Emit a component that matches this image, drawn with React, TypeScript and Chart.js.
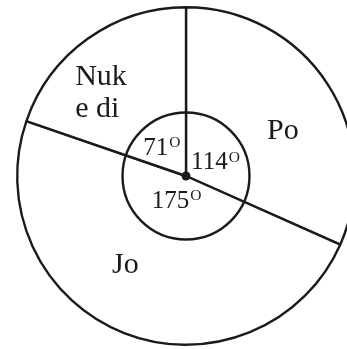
import React, { useEffect, useRef } from "react";
import { Chart, registerables } from "chart.js";

Chart.register(...registerables);

// ---- data ----
const categories: string[] = ["Po", "Jo", "Nuk e di"];
const degrees: number[] = [114, 175, 71];
const nameLines: string[][] = [["Po"], ["Jo"], ["Nuk", "e di"]];

// ---- label layout (angle clockwise from 12 o'clock, radius as fraction of R) ----
const nameAngle: number[] = [68.9, 212.1, 317.0];
const nameRadius: number[] = [0.615, 0.675, 0.738];
const valueAngle: number[] = [74.1, 205.6, 304.5];
const valueRadius: number[] = [0.144, 0.211, 0.218];
const innerCircleFrac = 0.376;

const INK = "#1c1a1b";
const SERIF = '"Liberation Serif", "Times New Roman", Times, serif';
const LINE_W = 2.4;

const overlayPlugin = {
  id: "overlay",
  afterDatasetsDraw(chart: any) {
    const meta = chart.getDatasetMeta(0);
    const arc = meta.data[0];
    if (!arc) return;
    const { x, y, outerRadius } = arc.getProps(["x", "y", "outerRadius"], true);
    const R = outerRadius;
    const ctx: CanvasRenderingContext2D = chart.ctx;
    const polar = (deg: number, r: number) => {
      const a = (deg * Math.PI) / 180;
      return { px: x + r * Math.sin(a), py: y - r * Math.cos(a) };
    };
    ctx.save();
    // inner circle
    ctx.strokeStyle = INK;
    ctx.lineWidth = LINE_W;
    ctx.beginPath();
    ctx.arc(x, y, R * innerCircleFrac, 0, Math.PI * 2);
    ctx.stroke();
    // center dot
    ctx.fillStyle = INK;
    ctx.beginPath();
    ctx.arc(x, y, 4.5, 0, Math.PI * 2);
    ctx.fill();

    // category names
    ctx.font = `30px ${SERIF}`;
    ctx.textBaseline = "alphabetic";
    ctx.textAlign = "left";
    categories.forEach((_, i) => {
      const lines = nameLines[i];
      const { px, py } = polar(nameAngle[i], nameRadius[i] * R);
      const maxW = Math.max(...lines.map((l) => ctx.measureText(l).width));
      lines.forEach((l, j) => {
        ctx.fillText(l, px - maxW / 2, py + j * 32);
      });
    });

    // degree values
    degrees.forEach((d, i) => {
      const { px, py } = polar(valueAngle[i], valueRadius[i] * R);
      const txt = String(d);
      ctx.font = `25px ${SERIF}`;
      const w = ctx.measureText(txt).width;
      ctx.fillText(txt, px - w / 2, py);
      ctx.font = `15.5px ${SERIF}`;
      ctx.fillText("O", px + w / 2 + 1, py - 7.7);
    });
    ctx.restore();
  },
};

export default function App() {
  const ref = useRef<HTMLCanvasElement | null>(null);
  useEffect(() => {
    if (!ref.current) return;
    const chart = new Chart(ref.current, {
      type: "pie",
      data: {
        labels: categories,
        datasets: [
          {
            data: degrees,
            backgroundColor: "#ffffff",
            borderColor: INK,
            borderWidth: LINE_W,
            borderAlign: "center",
          },
        ],
      },
      options: {
        responsive: false,
        animation: false,
        events: [],
        layout: { padding: 6 },
        plugins: {
          legend: { display: false },
          tooltip: { enabled: false },
        },
      },
      plugins: [overlayPlugin],
    });
    return () => chart.destroy();
  }, []);
  return (
    <div
      style={{
        position: "fixed",
        left: 0,
        top: 0,
        width: 347,
        height: 349,
        overflow: "hidden",
        background: "#ffffff",
      }}
    >
      <canvas
        ref={ref}
        width={372}
        height={352}
        style={{ position: "absolute", left: 0, top: 0, width: 372, height: 352 }}
      />
    </div>
  );
}
